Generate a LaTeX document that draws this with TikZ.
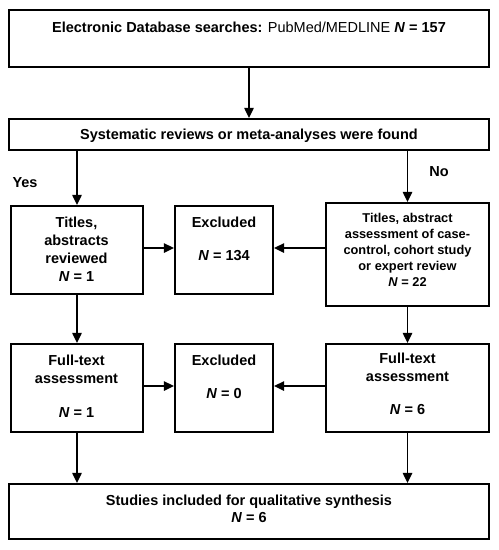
\documentclass[tikz,border=0pt]{standalone}
\usepackage{fontspec}
\setmainfont{Liberation Sans}
\usetikzlibrary{arrows.meta,calc}
\newcommand{\NN}{\textbf{\textit{N}}}
\begin{document}
\begin{tikzpicture}[x=1pt,y=-1pt,
  box/.style={draw,line width=2.3pt,rectangle,inner sep=0pt,anchor=center},
  txt/.style={align=center,inner sep=0pt,font=\fontsize{14.5}{18}\selectfont\bfseries},
  stxt/.style={align=center,inner sep=0pt,font=\fontsize{12.8}{16}\selectfont\bfseries},
  arr/.style={line width=1.4pt,-{Triangle[length=10pt,width=9.5pt]}}]
\useasboundingbox (0,0) rectangle (499,550);
% boxes
\node[box,minimum width=480pt,minimum height=57pt] (b1) at (249,38.5) {};
\node[box,minimum width=480pt,minimum height=31pt] (b2) at (249,134.5) {};
\node[box,minimum width=132pt,minimum height=88pt] (b3) at (77,250) {};
\node[box,minimum width=98pt,minimum height=88pt] (b4) at (224,250) {};
\node[box,minimum width=163pt,minimum height=103pt] (b5) at (407.5,254.5) {};
\node[box,minimum width=132pt,minimum height=88pt] (b6) at (77,388) {};
\node[box,minimum width=98pt,minimum height=88pt] (b7) at (224,388) {};
\node[box,minimum width=163pt,minimum height=88pt] (b8) at (407.5,388) {};
\node[box,minimum width=480pt,minimum height=55pt] (b9) at (249,511.5) {};
% texts
\node[txt] (t1) at (249,27) {Electronic Database searches: {\mdseries PubMed/MEDLINE} \NN\ = 157};
\node[txt] (t2) at (249,136) {Systematic reviews or meta-analyses were found};
\node[txt] (t3) at (76.5,249.5) {Titles,\\abstracts\\reviewed\\\NN\ = 1};
\node[txt] (t4) at (224,238.5) {Excluded\\[15pt]\NN\ = 134};
\node[stxt] (t5) at (407.5,249.5) {Titles, abstract\\assessment of case-\\control, cohort study\\or expert review\\\NN\ = 22};
\node[txt] (t6) at (76.5,386) {Full-text\\assessment\\[16pt]\NN\ = 1};
\node[txt] (t7) at (224,376.5) {Excluded\\[15pt]\NN\ = 0};
\node[txt] (t8) at (407.5,384) {Full-text\\assessment\\[15pt]\NN\ = 6};
\node[txt,font=\fontsize{14.5}{17}\selectfont\bfseries] (t9) at (249,508.5) {Studies included for qualitative synthesis\\\NN\ = 6};
\node[txt] (yes) at (25,183) {Yes};
\node[txt] (no) at (439,172) {No};
% arrows
\draw[arr] (b1.south) -- (b2.north);
\draw[arr] (b3.north |- b2.south) -- (b3.north);
\draw[arr] (b5.north |- b2.south) -- (b5.north);
\draw[arr] ([yshift=2pt]b3.east) -- ([yshift=2pt]b4.west);
\draw[arr] ([yshift=2pt]b4.east -| b5.west) -- ([yshift=2pt]b4.east);
\draw[arr] (b3.south) -- (b6.north);
\draw[arr] (b5.south) -- (b8.north);
\draw[arr] ([yshift=2pt]b6.east) -- ([yshift=2pt]b7.west);
\draw[arr] ([yshift=2pt]b8.west) -- ([yshift=2pt]b7.east);
\draw[arr] (b6.south) -- (b6.south |- b9.north);
\draw[arr] (b8.south) -- (b8.south |- b9.north);
\end{tikzpicture}
\end{document}
